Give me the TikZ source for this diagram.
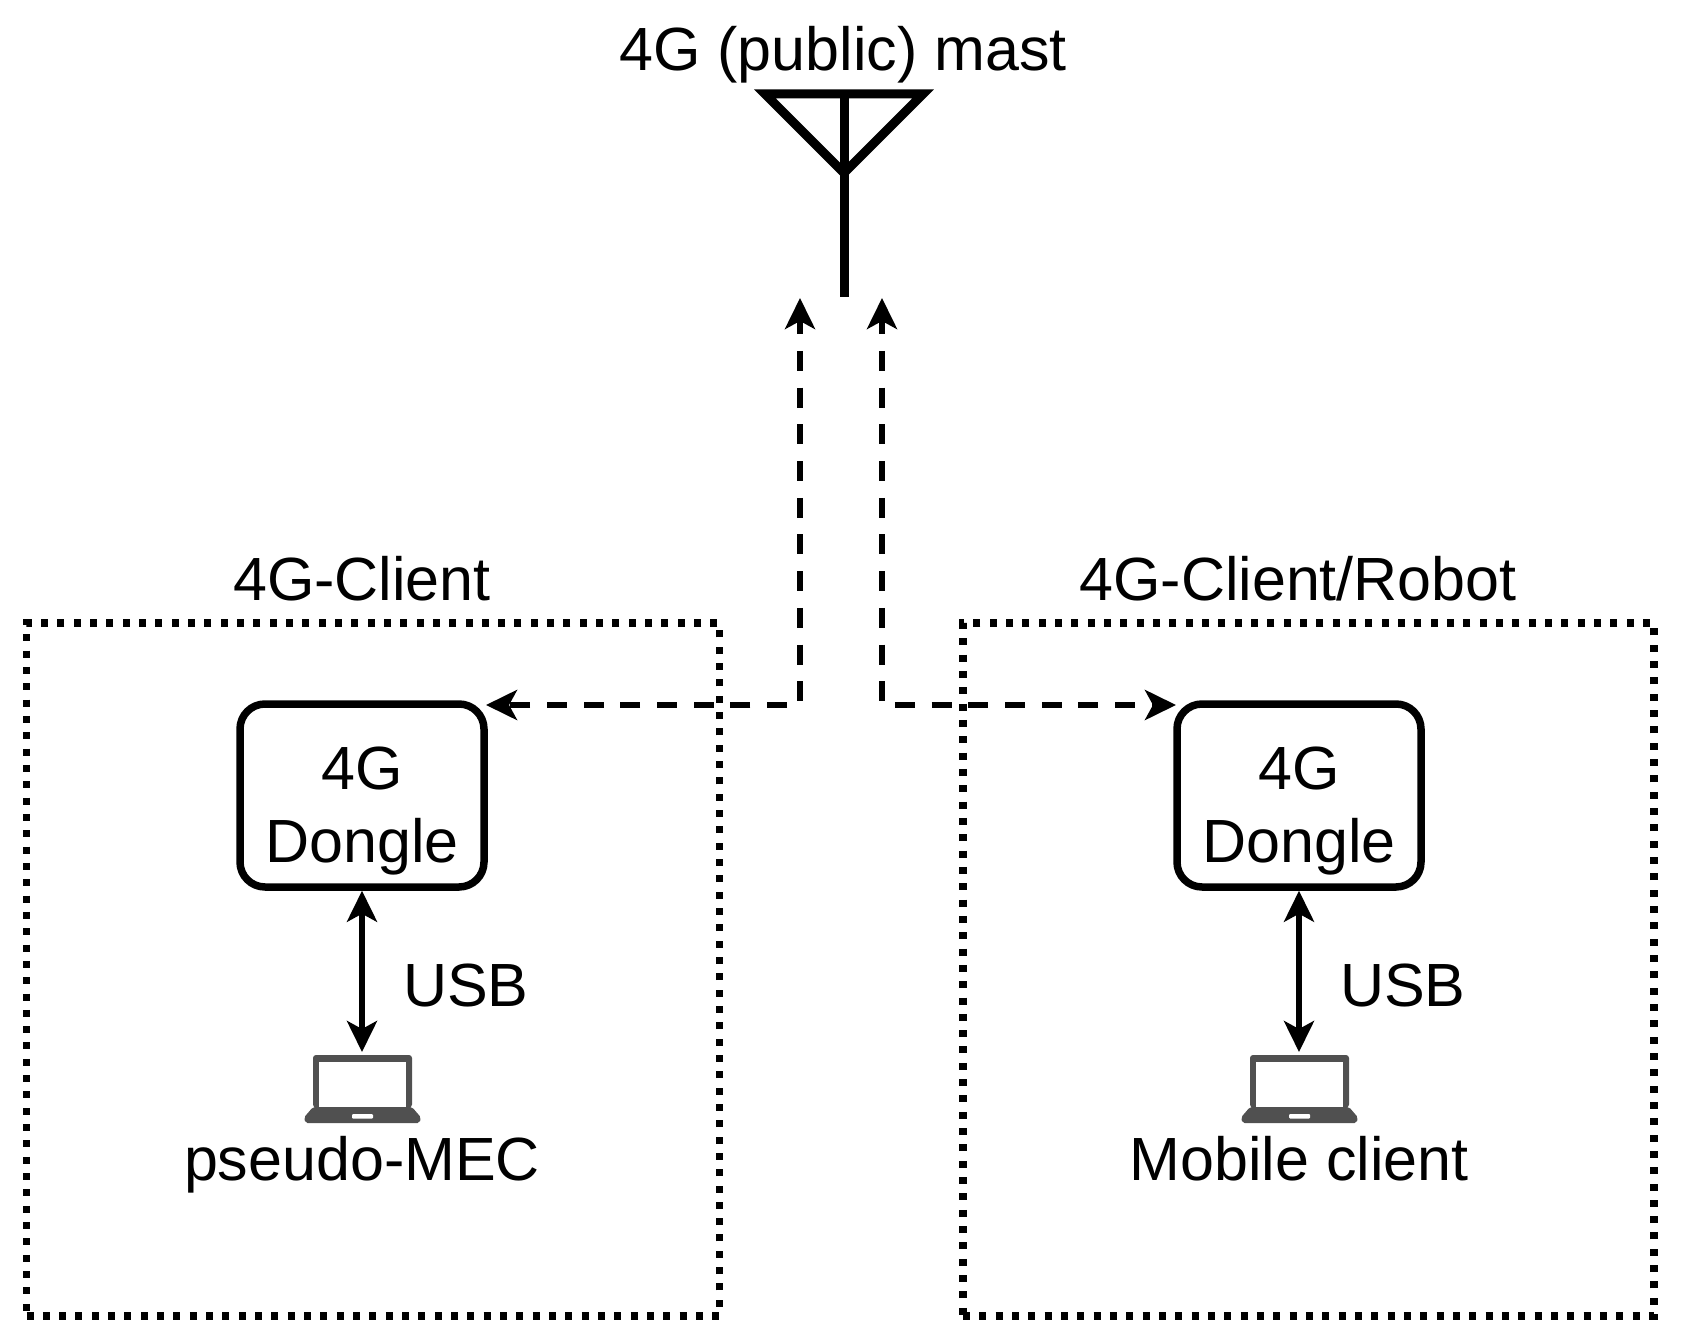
\documentclass[tikz,border=0pt]{standalone}
\usepackage{fontspec}
\setmainfont{Liberation Sans}
\usetikzlibrary{arrows.meta,calc}
\definecolor{lapgray}{HTML}{505050}
\newcommand{\dongletext}{\rule{0pt}{74pt}4G\\Dongle}
\tikzset{
  lab/.style={anchor=base,inner sep=0pt,font=\fontsize{61}{73}\selectfont},
  zone/.style={draw=black,rectangle,line width=7.5pt,dash pattern=on 7pt off 9.33pt,minimum height=693pt,inner sep=0pt,outer sep=0pt},
  dongle/.style={draw=black,rectangle,rounded corners=25pt,line width=7.5pt,minimum width=244pt,minimum height=183pt,inner sep=0pt,outer sep=3.75pt,align=center,font=\fontsize{61}{73}\selectfont},
  lapbox/.style={rectangle,inner sep=0pt,outer sep=0pt,minimum width=117pt,minimum height=68pt},
  link/.style={line width=5.5pt,dash pattern=on 20pt off 16.7pt,dash phase=5pt,{Stealth[length=31pt,width=30pt,inset=8pt]}-{Stealth[length=31pt,width=30pt,inset=8pt]}},
  usb/.style={line width=5.5pt,{Stealth[length=31pt,width=30pt,inset=8pt]}-{Stealth[length=31pt,width=30pt,inset=8pt]},shorten >=3pt},
  mast/.style={line width=9pt,miter limit=10}
}
\newcommand{\laptopicon}[1]{%
  \fill[lapgray,rounded corners=3pt] ($(#1)+(-49.5,-34)$) rectangle ($(#1)+(49.5,18.5)$);
  \fill[white] ($(#1)+(-43.5,-27)$) rectangle ($(#1)+(43.5,18)$);
  \fill[lapgray,rounded corners=2pt] ($(#1)+(-49.5,18)$) -- ($(#1)+(-58.5,28.5)$) -- ($(#1)+(-57,34)$) -- ($(#1)+(57,34)$) -- ($(#1)+(58.5,28.5)$) -- ($(#1)+(49.5,18)$) -- cycle;
  \fill[white,rounded corners=1pt] ($(#1)+(-10.5,25)$) rectangle ($(#1)+(10.5,29.5)$);
}
\begin{document}
\begin{tikzpicture}[x=1pt,y=-1pt]
\useasboundingbox (0,0) rectangle (1684,1337);
% mast
\node[lab] (mastlab) at (843,70.5) {4G (public) mast};
\coordinate (apex) at (844,173);
\coordinate (mastfoot) at (844,297);
\coordinate (mastmid) at (844,94);
\draw[mast] (765,94) -- (923,94) -- (apex) -- cycle;
\draw[mast] (mastmid) -- (mastfoot);
% zones
\node[zone,minimum width=693pt] (zoneL) at (373,969.5) {};
\node[zone,minimum width=691pt] (zoneR) at (1308.5,969.5) {};
\node[lab] (zoneLlab) at (362,600) {4G-Client};
\node[lab] (zoneRlab) at (1298,600) {4G-Client/Robot};
% dongles
\node[dongle] (dongleL) at (362,795.5) {\dongletext};
\node[dongle] (dongleR) at (1299,795.5) {\dongletext};
% laptops
\node[lapbox] (lapL) at (362.5,1089) {};
\node[lapbox] (lapR) at (1299.5,1089) {};
\laptopicon{lapL}
\laptopicon{lapR}
\node[lab] (lapLlab) at (362,1180) {pseudo-MEC};
\node[lab] (lapRlab) at (1299,1180) {Mobile client};
% usb
\draw[usb] (dongleL.south) -- (lapL.north -| dongleL.south);
\draw[usb] (dongleR.south) -- (lapR.north -| dongleR.south);
\node[lab,anchor=base west] (usbL) at (403,1006) {USB};
\node[lab,anchor=base west] (usbR) at (1340,1006) {USB};
% wireless links
\coordinate (upL) at (800,298);
\coordinate (upR) at (882,298);
\coordinate (tipL) at (486,705);
\coordinate (tipR) at (1176,705);
\draw[link] (upL) |- (tipL);
\draw[link] (upR) |- (tipR);
\end{tikzpicture}
\end{document}
